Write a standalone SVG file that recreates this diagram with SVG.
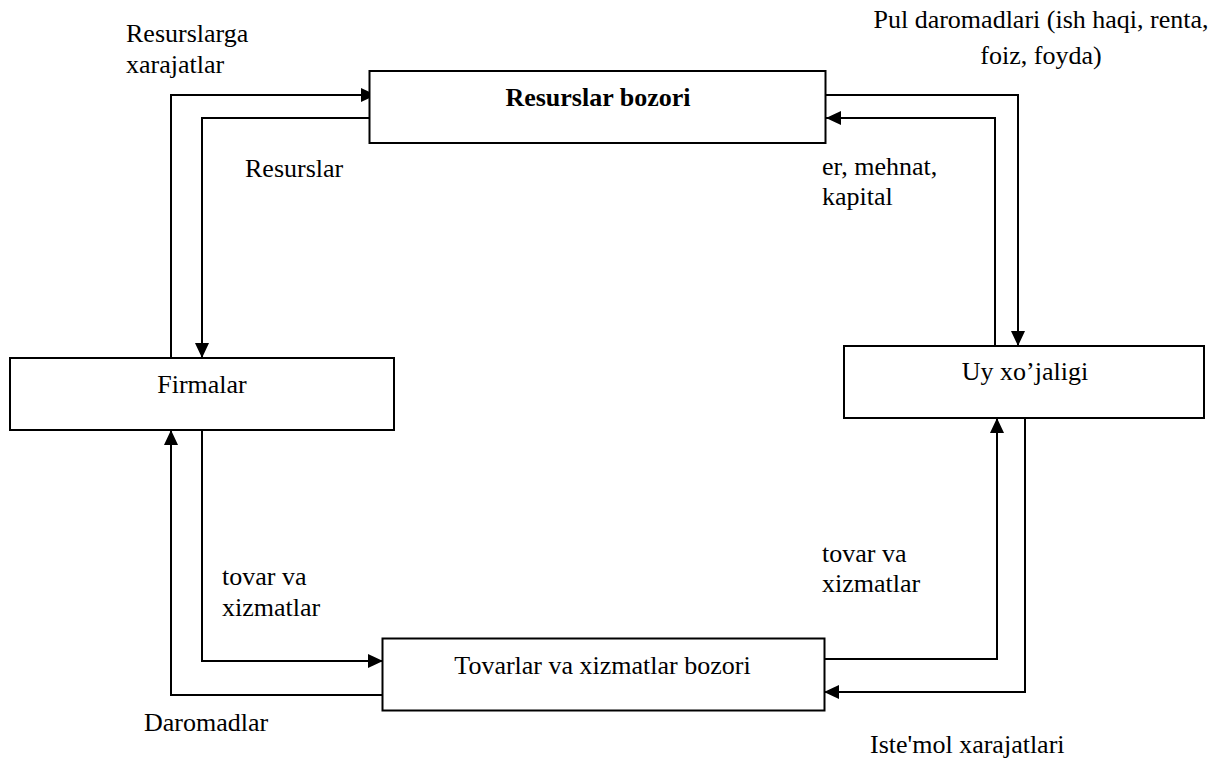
<svg xmlns="http://www.w3.org/2000/svg" width="1216" height="758" viewBox="0 0 1216 758">
<style>
.box{fill:#fff;stroke:#000;stroke-width:2}
.ln{fill:none;stroke:#000;stroke-width:2}
.t{font-family:"Liberation Serif","Times New Roman",serif;font-size:26px;fill:#000}
.c{text-anchor:middle}
.b{font-weight:bold}
</style>
<defs>
<marker id="ah" markerUnits="userSpaceOnUse" markerWidth="16" markerHeight="14" refX="15" refY="7" orient="auto">
<path d="M0,0 L15,7 L0,14 z" fill="#000"/>
</marker>
</defs>
<rect width="1216" height="758" fill="#fff"/>
<g id="connectors">
<path class="ln" d="M171,358 V95 H376" marker-end="url(#ah)"/>
<path class="ln" d="M369,118 H202 V358" marker-end="url(#ah)"/>
<path class="ln" d="M826,95 H1018 V346" marker-end="url(#ah)"/>
<path class="ln" d="M995,346 V118 H826" marker-end="url(#ah)"/>
<path class="ln" d="M202,430 V661 H383" marker-end="url(#ah)"/>
<path class="ln" d="M383,695 H171 V430" marker-end="url(#ah)"/>
<path class="ln" d="M824,659 H997 V418" marker-end="url(#ah)"/>
<path class="ln" d="M1025,418 V692 H824" marker-end="url(#ah)"/>
</g>
<g id="resurslar-bozori">
<rect class="box" x="369.5" y="71" width="456" height="72"/>
<text class="t c b" x="598" y="106">Resurslar bozori</text>
</g>
<g id="firmalar">
<rect class="box" x="10" y="358" width="384" height="72"/>
<text class="t c" x="202" y="393">Firmalar</text>
</g>
<g id="uy-xojaligi">
<rect class="box" x="844" y="346" width="360" height="72"/>
<text class="t c" x="1025" y="380">Uy xo’jaligi</text>
</g>
<g id="tovarlar-bozori">
<rect class="box" x="382.5" y="638.5" width="442" height="72"/>
<text class="t c" x="602.5" y="674">Tovarlar va xizmatlar bozori</text>
</g>
<g id="labels">
<text class="t" x="126" y="42">Resurslarga</text>
<text class="t" x="126" y="73">xarajatlar</text>
<text class="t" x="245" y="177">Resurslar</text>
<text class="t c" x="1041" y="28">Pul daromadlari (ish haqi, renta,</text>
<text class="t c" x="1041" y="64">foiz, foyda)</text>
<text class="t" x="822" y="175">er, mehnat,</text>
<text class="t" x="822" y="205">kapital</text>
<text class="t" x="222" y="585">tovar va</text>
<text class="t" x="222" y="616">xizmatlar</text>
<text class="t" x="822" y="562">tovar va</text>
<text class="t" x="822" y="592">xizmatlar</text>
<text class="t" x="144" y="731">Daromadlar</text>
<text class="t" x="870" y="753">Iste'mol xarajatlari</text>
</g>
</svg>
